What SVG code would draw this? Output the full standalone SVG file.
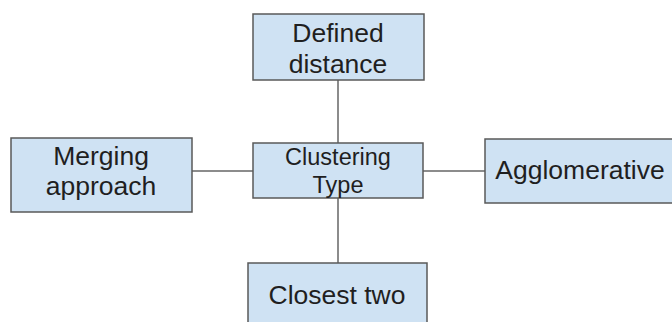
<svg xmlns="http://www.w3.org/2000/svg" width="672" height="322" viewBox="0 0 672 322">
<style>
.box{fill:#cfe2f3;stroke:#595959;stroke-width:1.5}
.lbl{font-family:"Liberation Sans",Arial,sans-serif;font-size:26.5px;fill:#1f1f1f;text-anchor:middle}
.sm{font-size:23.5px}
.con{stroke:#666;stroke-width:1.5;fill:none}
</style>
<rect width="672" height="322" fill="#fff"/>
<g id="connectors">
<line class="con" x1="338" y1="80" x2="338" y2="143"/>
<line class="con" x1="338" y1="198" x2="338" y2="263"/>
<line class="con" x1="192" y1="171" x2="253" y2="171"/>
<line class="con" x1="423" y1="171" x2="485" y2="171"/>
</g>
<g id="defined-distance">
<rect class="box" x="253" y="14" width="171" height="66"/>
<text class="lbl" x="338" y="42">Defined</text>
<text class="lbl" x="338" y="73">distance</text>
</g>
<g id="merging-approach">
<rect class="box" x="11" y="138" width="181" height="74"/>
<text class="lbl" x="101" y="165">Merging</text>
<text class="lbl" x="101" y="195">approach</text>
</g>
<g id="clustering-type">
<rect class="box" x="253" y="143" width="170" height="55"/>
<text class="lbl sm" x="338" y="165">Clustering</text>
<text class="lbl sm" x="338" y="193">Type</text>
</g>
<g id="agglomerative">
<rect class="box" x="485" y="139" width="192" height="64"/>
<text class="lbl" x="580" y="179" font-size="28.5">Agglomerative</text>
</g>
<g id="closest-two">
<rect class="box" x="248" y="263" width="179" height="70"/>
<text class="lbl" x="337" y="304" font-size="28">Closest two</text>
</g>
</svg>
